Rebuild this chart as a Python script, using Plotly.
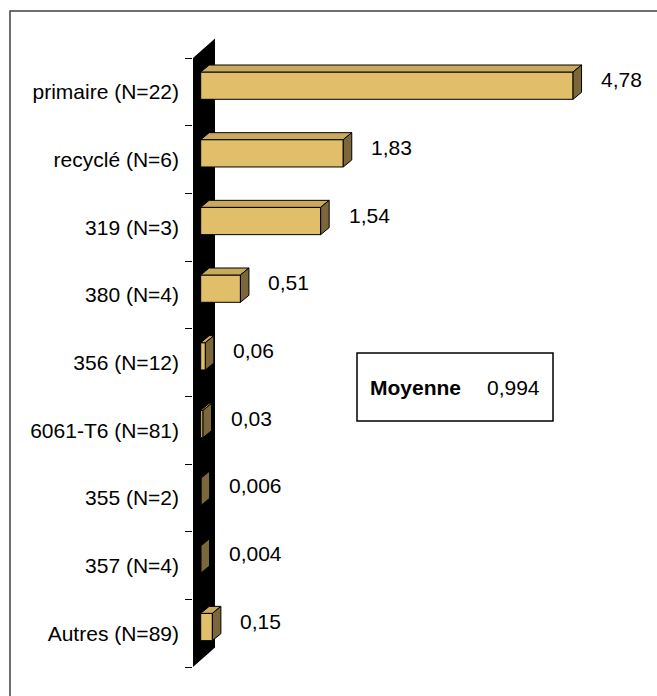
import plotly.graph_objects as go

# ---------------- data ----------------
categories = ["primaire (N=22)", "recyclé (N=6)", "319 (N=3)", "380 (N=4)",
              "356 (N=12)", "6061-T6 (N=81)", "355 (N=2)", "357 (N=4)", "Autres (N=89)"]
values = [4.78, 1.83, 1.54, 0.51, 0.06, 0.03, 0.006, 0.004, 0.15]
value_labels = ["4,78", "1,83", "1,54", "0,51", "0,06", "0,03", "0,006", "0,004", "0,15"]
mean_title = "Moyenne"
mean_value = "0,994"

# ---------------- layout / style constants ----------------
W, H = 657, 696
L, R, T, B = 193, 650, 30, 672          # plot area in pixels
X0_PX, PX_PER_UNIT = 200.7, 77.9       # value 0 position, px per unit
Y0_PX, CAT_PX = 58, 67.67              # top boundary, px per category
FONT = "Liberation Sans, Arial, sans-serif"
FS = 21
FRONT = "#E0BE6A"
TOP = "#C9A95C"
SIDE = "#7B6739"

BAR_OFFSET = (72 - Y0_PX) / CAT_PX - 0.5
BAR_WIDTH = 27.3 / CAT_PX
DX = 8.5 / PX_PER_UNIT
DY = -7.0 / CAT_PX
WALL_DX = 22 / PX_PER_UNIT
WALL_DY = -19.5 / CAT_PX
WALL_X0 = (193 - X0_PX) / PX_PER_UNIT

xrange = [(L - X0_PX) / PX_PER_UNIT, (R - X0_PX) / PX_PER_UNIT]
yrange = [(B - Y0_PX) / CAT_PX - 0.5, (T - Y0_PX) / CAT_PX - 0.5]


def xp(px):
    return (px - L) / (R - L)


def yp(py):
    return (B - py) / (B - T)


n = len(categories)
idx = list(range(n))

fig = go.Figure()

# front faces
fig.add_trace(go.Bar(
    y=idx, x=values, orientation="h", base=0,
    width=BAR_WIDTH, offset=BAR_OFFSET,
    marker=dict(color=FRONT, line=dict(color="black", width=1)),
    hoverinfo="skip", showlegend=False))

# top and side faces
tx, ty, sx, sy = [], [], [], []
for i, v in enumerate(values):
    top = i + BAR_OFFSET
    bot = top + BAR_WIDTH
    tx += [0, v, v + DX, DX, 0, None]
    ty += [top, top, top + DY, top + DY, top, None]
    sx += [v, v, v + DX, v + DX, v, None]
    sy += [top, bot, bot + DY, top + DY, top, None]

fig.add_trace(go.Scatter(x=tx, y=ty, mode="lines", fill="toself", fillcolor=TOP,
                         line=dict(color="black", width=1), hoverinfo="skip",
                         showlegend=False))
fig.add_trace(go.Scatter(x=sx, y=sy, mode="lines", fill="toself", fillcolor=SIDE,
                         line=dict(color="black", width=1), hoverinfo="skip",
                         showlegend=False))

# value labels
for i, (v, lab) in enumerate(zip(values, value_labels)):
    fig.add_annotation(x=v, y=i, text=lab, showarrow=False, xanchor="left",
                       yanchor="middle", xshift=26, yshift=12,
                       font=dict(family=FONT, size=FS, color="black"))

# wall
y_top = -0.5
y_bot = n - 0.5
wall = (f"M {WALL_X0},{y_bot} L {WALL_X0},{y_top} "
        f"L {WALL_X0 + WALL_DX},{y_top + WALL_DY} L {WALL_X0 + WALL_DX},{y_bot + WALL_DY} Z")
fig.add_shape(type="path", path=wall, xref="x", yref="y", fillcolor="black",
              line=dict(width=0), layer="below")

# outer frame: only left and top edges are visible in the picture
frame = f"M {xp(10)},{yp(760)} L {xp(10)},{yp(11)} L {xp(760)},{yp(11)}"
fig.add_shape(type="path", xref="paper", yref="paper", path=frame,
              line=dict(color="#404040", width=1.5), layer="above")

# mean box
fig.add_shape(type="rect", xref="paper", yref="paper",
              x0=xp(357), x1=xp(553), y0=yp(421), y1=yp(353),
              line=dict(color="black", width=1.5), fillcolor="white", layer="above")
fig.add_annotation(xref="paper", yref="paper", x=xp(368), y=yp(387),
                   text=f"<b>{mean_title}</b>", showarrow=False,
                   xanchor="left", yanchor="middle",
                   font=dict(family=FONT, size=FS, color="black"))
fig.add_annotation(xref="paper", yref="paper", x=xp(485), y=yp(387),
                   text=mean_value, showarrow=False,
                   xanchor="left", yanchor="middle",
                   font=dict(family=FONT, size=FS, color="black"))

fig.update_layout(
    width=W, height=H,
    margin=dict(l=L, r=W - R, t=T, b=H - B, pad=0),
    paper_bgcolor="white", plot_bgcolor="white",
    font=dict(family=FONT, size=FS, color="black"),
    showlegend=False, barmode="overlay", hovermode=False,
    xaxis=dict(range=xrange, visible=False, fixedrange=True),
    yaxis=dict(range=yrange, tickmode="array", tickvals=idx, ticktext=categories,
               ticks="", showgrid=False, zeroline=False, showline=False,
               ticklabelstandoff=13,
               tickfont=dict(family=FONT, size=FS, color="black"),
               minor=dict(tickmode="array", tickvals=[i - 0.5 for i in range(n + 1)],
                          ticks="outside", ticklen=7, tickcolor="black", tickwidth=1,
                          showgrid=False),
               fixedrange=True),
)

fig.write_html("out.html",
               config={"displayModeBar": False, "staticPlot": True},
               post_script="document.body.style.margin='0';"
                           "document.body.style.overflow='hidden';")
